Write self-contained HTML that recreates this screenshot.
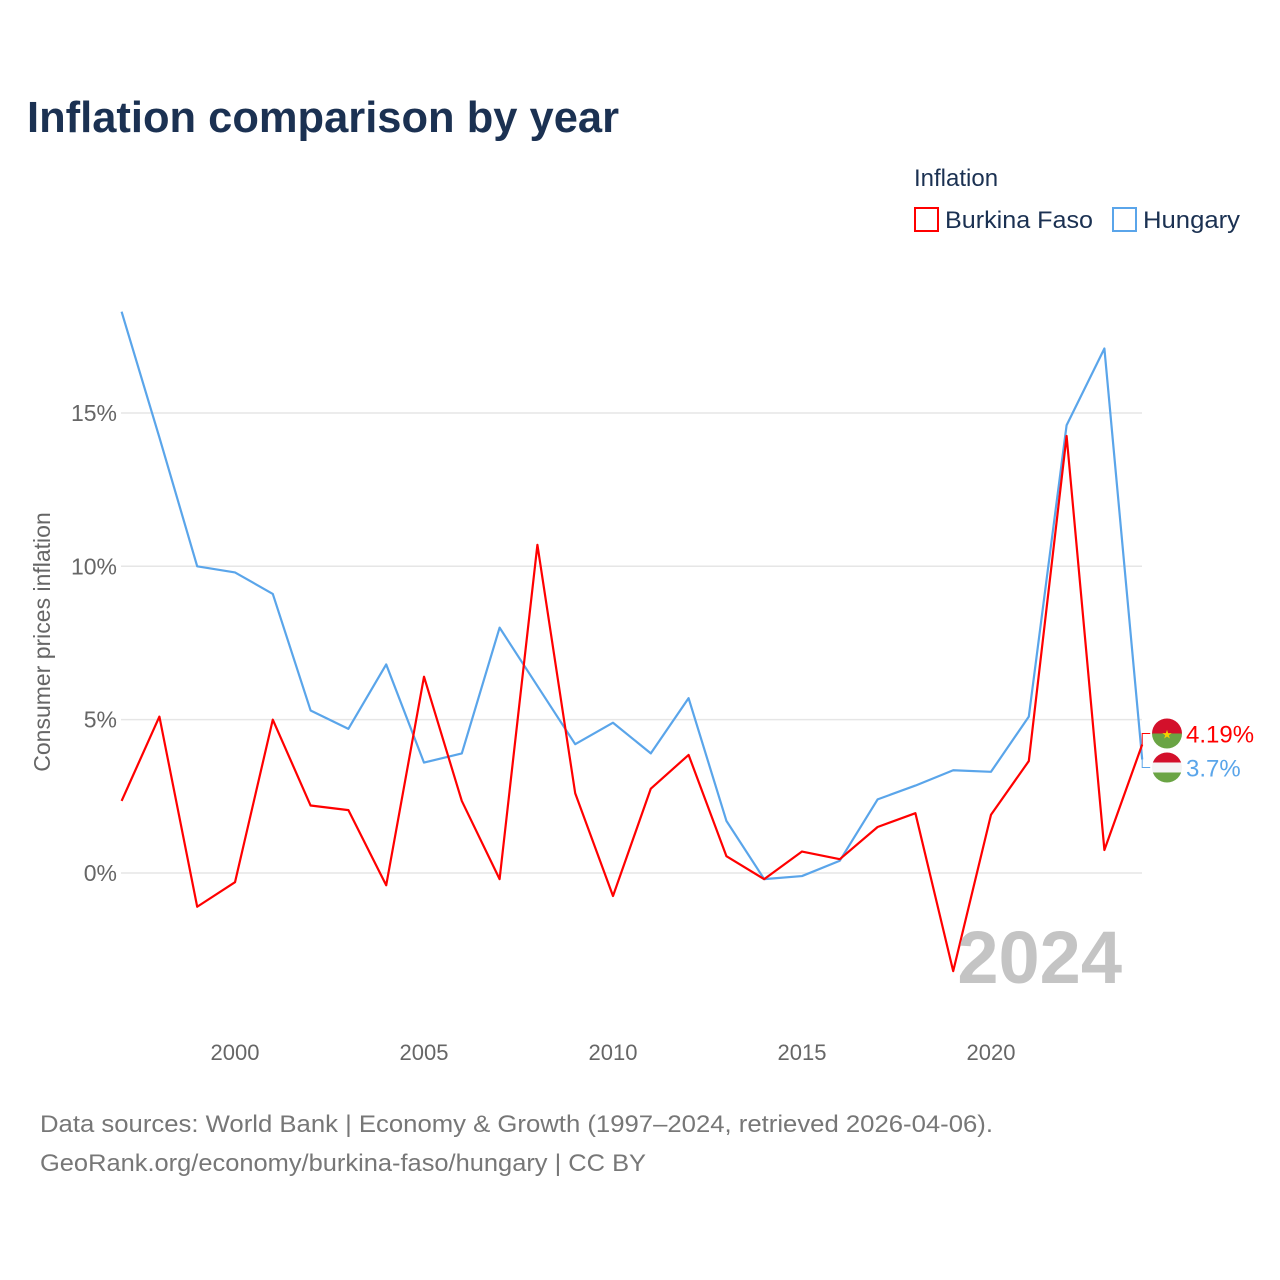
<!DOCTYPE html>
<html><head><meta charset="utf-8">
<style>
body{margin:0;background:#fff;font-family:"Liberation Sans",sans-serif;}
#wrap{position:relative;width:1280px;height:1280px;overflow:hidden;}
</style></head>
<body>
<div id="wrap">
<svg id="svg" width="1280" height="1280" xmlns="http://www.w3.org/2000/svg">
<text x="27" y="132" font-size="44" font-weight="bold" fill="#1b3152" textLength="592" lengthAdjust="spacingAndGlyphs">Inflation comparison by year</text>
<text x="914" y="186" font-size="24" fill="#1b3152">Inflation</text>
<g>
<rect x="915" y="208" width="23" height="23" fill="none" stroke="#ff0000" stroke-width="2"/>
<text x="945" y="228" font-size="24" fill="#1b3152" textLength="148" lengthAdjust="spacingAndGlyphs">Burkina Faso</text></g>
<g>
<rect x="1113" y="208" width="23" height="23" fill="none" stroke="#5aa5ea" stroke-width="2"/>
<text x="1143" y="228" font-size="24" fill="#1b3152" textLength="97" lengthAdjust="spacingAndGlyphs">Hungary</text></g>
<text transform="translate(50,642) rotate(-90)" text-anchor="middle" font-size="23" fill="#666">Consumer prices inflation</text>
<g id="grid"></g><g id="yt"></g><g id="xt"></g><g id="lines"></g>
<text x="1122" y="983" text-anchor="end" font-size="74" font-weight="bold" fill="#c4c4c4">2024</text>
<g id="ends"></g>
<text x="40" y="1132" font-size="24" fill="#777" textLength="953" lengthAdjust="spacingAndGlyphs">Data sources: World Bank | Economy &amp; Growth (1997–2024, retrieved 2026-04-06).</text>
<text x="40" y="1171" font-size="24" fill="#777" textLength="606" lengthAdjust="spacingAndGlyphs">GeoRank.org/economy/burkina-faso/hungary | CC BY</text>
</svg>
</div>
<script>
const years=[1997,1998,1999,2000,2001,2002,2003,2004,2005,2006,2007,2008,2009,2010,2011,2012,2013,2014,2015,2016,2017,2018,2019,2020,2021,2022,2023,2024];
const hungary=[18.3,14.2,10.0,9.8,9.1,5.3,4.7,6.8,3.6,3.9,8.0,6.1,4.2,4.9,3.9,5.7,1.7,-0.2,-0.1,0.4,2.4,2.85,3.35,3.3,5.1,14.6,17.1,3.7];
const burkina=[2.35,5.1,-1.1,-0.3,5.0,2.2,2.05,-0.4,6.4,2.35,-0.2,10.7,2.6,-0.75,2.75,3.85,0.55,-0.2,0.7,0.45,1.5,1.95,-3.2,1.9,3.65,14.25,0.75,4.19];
const yTicks=[0,5,10,15];
const yTickLabels=["0%","5%","10%","15%"];
const xTicks=[2000,2005,2010,2015,2020];
const NS="http://www.w3.org/2000/svg";
const x=v=>121.6+(v-1997)*37.8;
const y=v=>873-v*30.67;
function mk(tag,attrs,parent){const e=document.createElementNS(NS,tag);for(const k in attrs)e.setAttribute(k,attrs[k]);parent.appendChild(e);return e;}
const grid=document.getElementById('grid'),yt=document.getElementById('yt'),xt=document.getElementById('xt'),lines=document.getElementById('lines'),ends=document.getElementById('ends');
yTicks.forEach((t,i)=>{
 const l=mk('line',{x1:121,x2:1142,y1:y(t),y2:y(t),stroke:'#e6e6e6','stroke-width':1.5},grid);
 
 
 const tx=mk('text',{x:117,y:y(t)+8,'text-anchor':'end','font-size':23,fill:'#666'},yt);
 tx.textContent=yTickLabels[i];
 
 
});
xTicks.forEach(t=>{
 const tx=mk('text',{x:x(t),y:1060,'text-anchor':'middle','font-size':22,fill:'#666'},xt);
 tx.textContent=t;
 
 
});
function line(data,color,name){
 const p=mk('polyline',{points:data.map((v,i)=>x(years[i])+','+y(v)).join(' '),fill:'none',stroke:color,'stroke-width':2.2,'stroke-linejoin':'round'},lines);
 
 
}
line(hungary,'#5aa5ea','hungary-line');
line(burkina,'#ff0000','burkina-faso-line');
const lb=burkina[burkina.length-1],lh=hungary[hungary.length-1];
const xe=x(years[years.length-1]);
const yb=y(lb)-11, yh=yb+34;
const c1=mk('path',{d:`M${xe},${y(lb)} V${yb} H${xe+8}`,fill:'none',stroke:'#ff0000','stroke-width':1},ends);


const c2=mk('path',{d:`M${xe},${y(lh)} V${yh} H${xe+8}`,fill:'none',stroke:'#5aa5ea','stroke-width':1},ends);


const cx=1167;
const fb=mk('g',{},ends);


mk('defs',{},fb).innerHTML=`<clipPath id="cb"><circle cx="${cx}" cy="${yb}" r="15"/></clipPath><clipPath id="ch"><circle cx="${cx}" cy="${yh}" r="15"/></clipPath>`;
mk('rect',{x:cx-15,y:yb-15,width:30,height:15,fill:'#d3102b','clip-path':'url(#cb)'},fb);
mk('rect',{x:cx-15,y:yb,width:30,height:15,fill:'#6aa444','clip-path':'url(#cb)'},fb);
mk('text',{x:cx,y:yb+5,'text-anchor':'middle','font-size':12,fill:'#f5d000'},fb).textContent='★';
const fh=mk('g',{},ends);


mk('rect',{x:cx-15,y:yh-15,width:30,height:10,fill:'#d3102b','clip-path':'url(#ch)'},fh);
mk('rect',{x:cx-15,y:yh-5,width:30,height:10,fill:'#f4f4f4','clip-path':'url(#ch)'},fh);
mk('rect',{x:cx-15,y:yh+5,width:30,height:10,fill:'#6aa444','clip-path':'url(#ch)'},fh);
const t1=mk('text',{x:1186,y:yb+9,'font-size':24,fill:'#ff0000'},ends);
t1.textContent=lb+'%';


const t2=mk('text',{x:1186,y:yh+9,'font-size':24,fill:'#5aa5ea'},ends);
t2.textContent=lh+'%';


</script>
</body></html>
